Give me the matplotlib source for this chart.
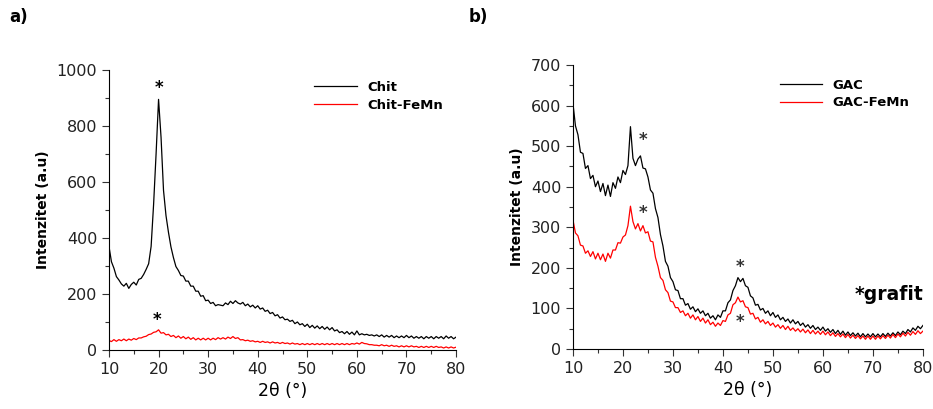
import numpy as np
import matplotlib.pyplot as plt

# 2theta grid, 0.5 degree step (10 ... 80)
two_theta = np.arange(10, 80.01, 0.5)

# panel a
chit = [
    370, 315, 292, 262, 250, 236, 228, 238, 220, 234,
    242, 232, 252, 256, 270, 288, 308, 370, 520, 700,
    895, 760, 570, 480, 420, 368, 330, 298, 284, 266,
    264, 246, 246, 228, 228, 210, 210, 192, 194, 176,
    178, 166, 170, 158, 162, 160, 158, 168, 162, 174,
    166, 176, 168, 164, 170, 158, 164, 154, 160, 150,
    158, 146, 150, 138, 142, 130, 134, 122, 126, 114,
    118, 108, 110, 102, 106, 94, 100, 90, 94, 84,
    92, 80, 88, 78, 86, 76, 84, 74, 82, 72,
    80, 68, 72, 62, 66, 58, 66, 56, 64, 54,
    68, 54, 58, 54, 56, 52, 54, 50, 54, 48,
    54, 46, 52, 46, 52, 44, 50, 44, 50, 44,
    52, 44, 50, 42, 48, 42, 48, 40, 48, 42,
    48, 40, 48, 42, 48, 40, 50, 42, 48, 40,
    46,
]
chit_femn = [
    34, 30, 37, 31, 37, 33, 39, 33, 39, 35,
    41, 37, 43, 43, 47, 49, 55, 57, 63, 65,
    72, 60, 62, 54, 56, 48, 52, 44, 50, 42,
    48, 40, 46, 38, 44, 36, 42, 36, 42, 36,
    42, 36, 42, 37, 44, 39, 44, 39, 46, 41,
    48, 41, 44, 36, 37, 33, 35, 31, 33, 29,
    31, 27, 31, 27, 29, 25, 29, 25, 27, 23,
    27, 23, 25, 21, 25, 21, 23, 19, 23, 19,
    23, 19, 23, 19, 23, 19, 23, 19, 23, 19,
    23, 19, 23, 19, 23, 19, 23, 19, 23, 21,
    25, 21, 27, 23, 22, 19, 19, 17, 17, 15,
    19, 15, 17, 13, 17, 13, 15, 11, 15, 11,
    15, 11, 15, 11, 13, 9, 13, 9, 13, 9,
    13, 9, 13, 9, 11, 7, 11, 7, 11, 7,
    10,
]

# panel b
gac = [
    605, 550, 528, 485, 482, 445, 452, 420, 428, 400,
    414, 388, 408, 378, 404, 376, 410, 396, 424, 410,
    440, 430, 452, 548, 470, 452, 468, 476, 446, 444,
    424, 392, 384, 346, 324, 282, 254, 216, 204, 176,
    166, 146, 144, 124, 124, 108, 112, 98, 104, 92,
    99, 88, 94, 82, 88, 76, 82, 72, 84, 78,
    94, 94, 114, 121, 144, 156, 176, 166, 174, 156,
    152, 131, 126, 108, 110, 96, 100, 88, 94, 82,
    90, 78, 84, 72, 78, 68, 74, 64, 72, 62,
    68, 58, 64, 54, 60, 51, 58, 48, 54, 46,
    54, 44, 50, 41, 48, 38, 46, 36, 44, 34,
    42, 33, 40, 32, 39, 30, 38, 30, 37, 30,
    38, 30, 37, 30, 38, 31, 39, 32, 40, 33,
    42, 35, 44, 38, 48, 42, 52, 46, 56, 50,
    58,
]
gac_femn = [
    318, 286, 279, 256, 254, 236, 242, 228, 240, 222,
    236, 220, 234, 216, 236, 224, 244, 244, 262, 261,
    276, 281, 304, 352, 314, 296, 309, 291, 304, 286,
    289, 266, 264, 226, 204, 176, 169, 146, 139, 118,
    116, 102, 102, 90, 94, 82, 88, 76, 84, 72,
    80, 68, 76, 64, 72, 60, 66, 56, 64, 58,
    70, 68, 84, 88, 109, 114, 128, 116, 119, 104,
    102, 86, 88, 74, 78, 66, 72, 62, 68, 58,
    64, 54, 60, 51, 58, 48, 56, 46, 52, 44,
    50, 42, 49, 40, 47, 38, 46, 37, 44, 36,
    44, 35, 42, 33, 40, 31, 38, 30, 37, 28,
    36, 27, 34, 26, 33, 25, 32, 24, 32, 24,
    32, 24, 32, 25, 33, 26, 34, 27, 36, 28,
    37, 30, 39, 32, 41, 34, 43, 36, 45, 38,
    44,
]

fig = plt.figure(figsize=(9.33, 4.09), dpi=100)
ax1 = fig.add_axes([0.1168, 0.1443, 0.372, 0.6846])
ax2 = fig.add_axes([0.6141, 0.1467, 0.3751, 0.6944])


def style(ax, ymax, ymajor, leg_y):
    ax.set_xlim(10, 80)
    ax.set_ylim(0, ymax)
    ax.spines['top'].set_visible(False)
    ax.spines['right'].set_visible(False)
    ax.set_xticks(np.arange(10, 81, 10))
    ax.set_xticks(np.arange(15, 80, 10), minor=True)
    ax.set_yticks(np.arange(0, ymax + 1, ymajor))
    ax.set_yticks(np.arange(ymajor / 2, ymax, ymajor), minor=True)
    ax.tick_params(which='major', direction='out', length=5, width=0.8, labelsize=11.5,
                   colors='#333333', labelcolor='#222222')
    ax.tick_params(which='minor', direction='out', length=3, width=0.8, colors='#333333')
    ax.set_xlabel('2θ (°)', fontsize=12.5, labelpad=4)
    ax.set_ylabel('Intenzitet (a.u)', fontsize=10, fontweight='bold', labelpad=5)
    leg = ax.legend(loc='upper right', frameon=False, fontsize=9.5, handlelength=3.2,
                    borderaxespad=0.6, labelspacing=0.35, bbox_to_anchor=(1.0, leg_y))
    for t in leg.get_texts():
        t.set_fontweight('bold')


ax1.plot(two_theta, chit, color='black', lw=0.9, label='Chit')
ax1.plot(two_theta, chit_femn, color='red', lw=0.9, label='Chit-FeMn')
style(ax1, 1000, 200, 1.008)
ax1.text(20, 905, '*', ha='center', va='bottom', fontsize=12, fontweight='bold')
ax1.text(19.7, 75, '*', ha='center', va='bottom', fontsize=12, fontweight='bold')

ax2.plot(two_theta, gac, color='black', lw=0.9, label='GAC')
ax2.plot(two_theta, gac_femn, color='red', lw=0.9, label='GAC-FeMn')
style(ax2, 700, 100, 0.998)
ax2.text(24, 492, '*', ha='center', va='bottom', fontsize=12, fontweight='bold', color='#333333')
ax2.text(24, 312, '*', ha='center', va='bottom', fontsize=12, fontweight='bold', color='#333333')
ax2.text(43.5, 180, '*', ha='center', va='bottom', fontsize=12, fontweight='bold', color='#333333')
ax2.text(43.5, 45, '*', ha='center', va='bottom', fontsize=12, fontweight='bold', color='#333333')
ax2.text(80, 135, '*grafit', ha='right', va='center', fontsize=13.5, fontweight='bold')

fig.text(0.010, 0.958, 'a)', fontsize=12, fontweight='bold', va='center')
fig.text(0.502, 0.958, 'b)', fontsize=12, fontweight='bold', va='center')

plt.savefig('out.png', dpi=100)
